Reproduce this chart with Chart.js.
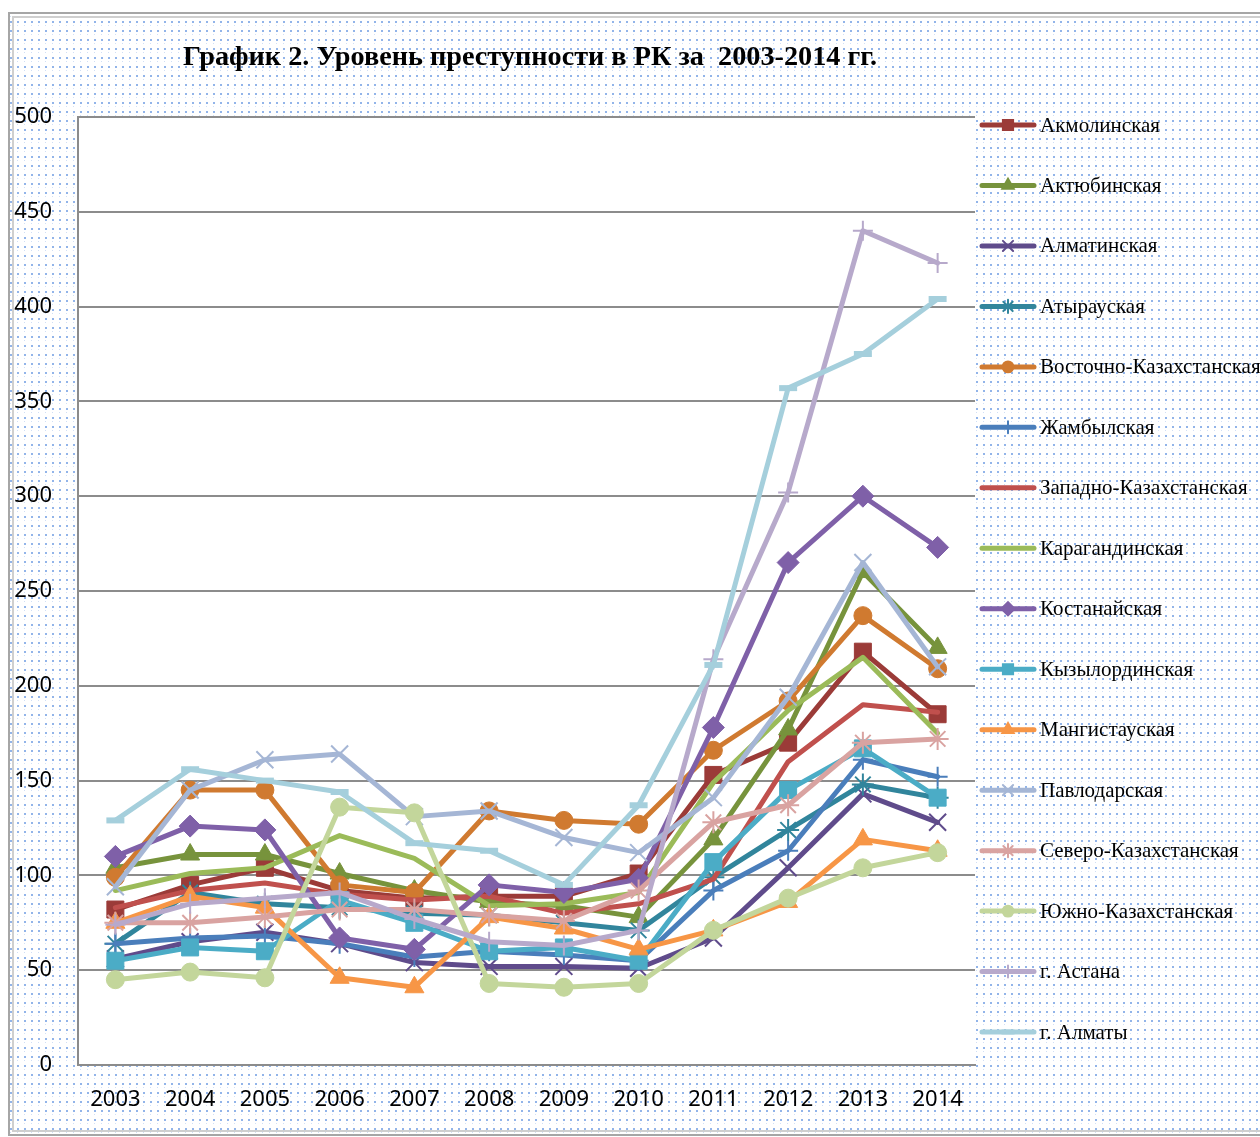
<!DOCTYPE html>
<html>
<head>
<meta charset="utf-8">
<script src="https://cdn.jsdelivr.net/npm/chart.js@4.4.1/dist/chart.umd.min.js"></script>
<style>
  html, body { margin: 0; padding: 0; background: #fff; }
  .chart-box { width: 1260px; height: 1137px; position: relative; }
</style>
</head>
<body>
<div class="chart-box"><canvas id="myChart"></canvas></div>
<script>
const years = ["2003", "2004", "2005", "2006", "2007", "2008", "2009", "2010", "2011", "2012", "2013", "2014"];
const yTicks = [0, 50, 100, 150, 200, 250, 300, 350, 400, 450, 500];

const akmola = [82, 95, 104, 92, 88, 89, 89, 101, 153, 170, 218, 185];
const aktobe = [104, 111, 111, 101, 92, 86, 84, 78, 119, 177, 260, 220];
const almatyObl = [56, 65, 70, 64, 54, 52, 52, 51, 67, 104, 143, 128];
const atyrau = [64, 91, 85, 83, 80, 79, 75, 71, 99, 124, 148, 141];
const vko = [99, 145, 145, 95, 91, 134, 129, 127, 166, 192, 237, 209];
const zhambyl = [64, 67, 68, 64, 57, 60, 58, 55, 92, 113, 161, 152];
const zko = [83, 92, 96, 90, 87, 89, 80, 85, 98, 160, 190, 186];
const karaganda = [92, 101, 104, 121, 109, 84, 85, 91, 149, 187, 215, 175];
const kostanay = [110, 126, 124, 67, 61, 95, 91, 98, 178, 265, 300, 273];
const kyzylorda = [55, 62, 60, 87, 75, 60, 62, 55, 107, 145, 167, 141];
const mangistau = [75, 89, 83, 46, 41, 78, 72, 61, 71, 86, 119, 113];
const pavlodar = [94, 145, 161, 164, 131, 134, 120, 112, 141, 194, 265, 210];
const sko = [75, 75, 78, 82, 82, 79, 76, 92, 128, 137, 170, 172];
const yuko = [45, 49, 46, 136, 133, 43, 41, 43, 71, 88, 104, 112];
const astana = [74, 85, 88, 91, 77, 65, 63, 71, 214, 302, 440, 423];
const almatyCity = [129, 156, 150, 144, 117, 113, 95, 137, 211, 357, 375, 404];

// name, data, colour, marker, marker radius
const series = [
  ["Акмолинская", akmola, "#9b3b38", "rect", 12],
  ["Актюбинская", aktobe, "#77933c", "triangle", 11],
  ["Алматинская", almatyObl, "#5f4b8b", "crossRot", 12],
  ["Атырауская", atyrau, "#31859c", "star", 11],
  ["Восточно-Казахстанская", vko, "#d07a30", "circle", 9],
  ["Жамбылская", zhambyl, "#4a7ebb", "cross", 10],
  ["Западно-Казахстанская", zko, "#c0504d", false, 0],
  ["Карагандинская", karaganda, "#9bbb59", false, 0],
  ["Костанайская", kostanay, "#7f60a8", "rectRot", 11],
  ["Кызылординская", kyzylorda, "#4bacc6", "rect", 12],
  ["Мангистауская", mangistau, "#f79646", "triangle", 11],
  ["Павлодарская", pavlodar, "#a5b6d5", "crossRot", 12],
  ["Северо-Казахстанская", sko, "#d9a3a1", "star", 11],
  ["Южно-Казахстанская", yuko, "#c3d69b", "circle", 9],
  ["г. Астана", astana, "#b7a9cb", "cross", 10],
  ["г. Алматы", almatyCity, "#a5cfdc", "line", 9],
];

const crossLike = ["crossRot", "star", "cross", "line"];

const datasets = series.map((s, i) => ({
  label: s[0],
  data: s[1],
  borderColor: s[2],
  backgroundColor: s[2],
  borderWidth: 5,
  borderJoinStyle: "round",
  borderCapStyle: "round",
  tension: 0,
  pointStyle: s[3],
  pointRadius: s[3] ? s[4] : 0,
  pointHoverRadius: s[3] ? s[4] : 0,
  pointBackgroundColor: s[2],
  pointBorderColor: s[2],
  pointBorderWidth: s[3] === "line" ? 6 : crossLike.includes(s[3]) ? 2 : 1,
  order: series.length - i,
}));

// dotted chart-area fill
function makePattern(ctx) {
  const tile = document.createElement("canvas");
  tile.width = 7;
  tile.height = 9;
  const t = tile.getContext("2d");
  t.fillStyle = "#ffffff";
  t.fillRect(0, 0, 7, 9);
  t.fillStyle = "rgba(110,155,225,0.75)";
  t.fillRect(3, 3, 2, 2);
  t.fillStyle = "rgba(140,175,230,0.4)";
  t.fillRect(3, 7, 1, 1);
  return ctx.createPattern(tile, "repeat");
}

const backdrop = {
  id: "backdrop",
  beforeDraw(chart) {
    const { ctx, chartArea: a, width, height } = chart;
    ctx.save();
    ctx.fillStyle = "#ffffff";
    ctx.fillRect(0, 0, width, height);
    ctx.fillStyle = makePattern(ctx);
    ctx.fillRect(10, 14, width - 10, height - 16);
    // frame
    ctx.strokeStyle = "#a6a6a6";
    ctx.lineWidth = 2;
    ctx.strokeRect(9, 13, width + 10, height - 15);
    ctx.strokeStyle = "#cfcfcf";
    ctx.lineWidth = 2;
    ctx.strokeRect(13, 17, width + 10, height - 23);
    ctx.fillStyle = "#ffffff";
    ctx.fillRect(a.left, a.top, a.right - a.left, a.bottom - a.top);
    ctx.restore();
  },
};

const titleAndLegend = {
  id: "titleAndLegend",
  afterDraw(chart) {
    const { ctx } = chart;
    ctx.save();
    // title, condensed like the original
    const title = "График 2. Уровень преступности в РК за  2003-2014 гг.";
    ctx.font = "bold 28px 'Liberation Serif'";
    const w = ctx.measureText(title).width;
    const sx = 694 / w;
    ctx.translate(530, 58);
    ctx.scale(sx, 1);
    ctx.fillStyle = "#000";
    ctx.textAlign = "center";
    ctx.textBaseline = "middle";
    ctx.fillText(title, 0, 0);
    ctx.restore();

    // legend on the right
    const step = 60.47;
    chart.data.datasets.forEach((ds, i) => {
      const y = 125 + i * step;
      ctx.save();
      ctx.strokeStyle = ds.borderColor;
      ctx.lineWidth = 5;
      ctx.lineCap = "round";
      ctx.beginPath();
      ctx.moveTo(982, y);
      ctx.lineTo(1034, y);
      ctx.stroke();
      if (ds.pointStyle && Chart.helpers && Chart.helpers.drawPoint) {
        ctx.fillStyle = ds.pointBackgroundColor;
        ctx.strokeStyle = ds.pointBorderColor;
        ctx.lineWidth = ds.pointStyle === "line" ? 5 : 2;
        Chart.helpers.drawPoint(ctx, {
          pointStyle: ds.pointStyle,
          radius: ds.pointRadius * 0.6,
          rotation: 0,
          borderWidth: ctx.lineWidth,
        }, 1008, y);
      }
      ctx.fillStyle = "#000";
      ctx.font = "21px 'Liberation Serif'";
      ctx.textAlign = "left";
      ctx.textBaseline = "middle";
      ctx.fillText(ds.label, 1040, y + 1);
      ctx.restore();
    });
  },
};

const ctx = document.getElementById("myChart");

new Chart(ctx, {
  type: "line",
  data: { labels: years, datasets: datasets },
  plugins: [backdrop, titleAndLegend],
  options: {
    responsive: true,
    maintainAspectRatio: false,
    animation: false,
    layout: { padding: { left: 8, top: 117, right: 285, bottom: 0 } },
    scales: {
      x: {
        offset: true,
        grid: { display: false },
        border: { display: true, color: "#8c8c8c", width: 2 },
        ticks: {
          color: "#000",
          padding: 14,
          maxRotation: 0,
          font: { size: 22, family: "'Noto Sans', sans-serif" },
        },
        afterFit: (scale) => { scale.height = 72; },
      },
      y: {
        min: 0,
        max: 500,
        afterBuildTicks: (scale) => { scale.ticks = yTicks.map((v) => ({ value: v })); },
        grid: { color: "#8c8c8c", lineWidth: 2, drawTicks: false },
        border: { display: true, color: "#8c8c8c", width: 2 },
        ticks: {
          color: "#000",
          padding: 26,
          font: { size: 22, family: "'Noto Sans', sans-serif" },
        },
        afterFit: (scale) => { scale.width = 70; },
      },
    },
    plugins: {
      legend: { display: false },
      title: { display: false },
      tooltip: { enabled: false },
    },
  },
});
</script>
</body>
</html>
